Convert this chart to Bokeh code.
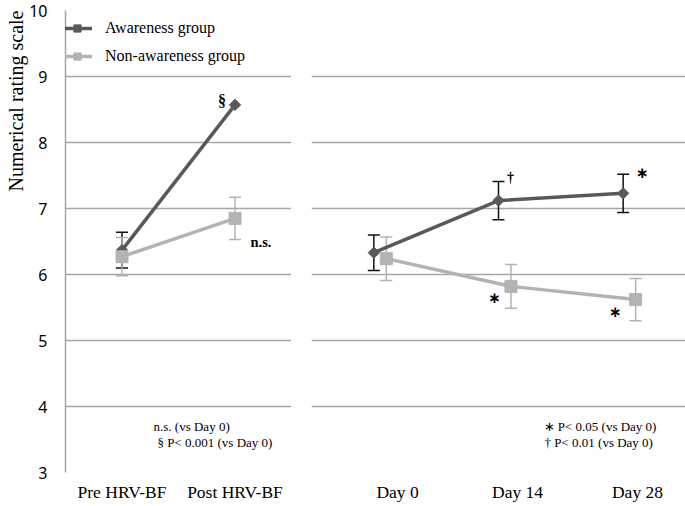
import numpy as np
from bokeh.plotting import figure
from bokeh.models import (ColumnDataSource, FactorRange, Range1d, Whisker, TeeHead,
                          Legend, LegendItem, Label, FixedTicker, Grid, Title, LinearAxis)
from bokeh.layouts import row
from bokeh.transform import dodge
from bokeh.core.properties import value
from bokeh.embed import file_html
from bokeh.resources import INLINE

# ---------------- data ----------------
left_cats = ["Pre HRV-BF", "Post HRV-BF"]
right_cats = ["Day 0", "Day 14", "Day 28"]

aw_left = [6.37, 8.57]
aw_left_err = [0.27, 0.0]
non_left = [6.27, 6.85]
non_left_err = [0.29, 0.32]

aw_right = [6.33, 7.12, 7.23]
aw_right_err = [0.27, 0.29, 0.29]
non_right = [6.24, 5.82, 5.62]
non_right_err = [0.33, 0.33, 0.32]

sig_left_aw = ["", "§"]
sig_left_non = ["", "n.s."]
sig_right_aw = ["", "†", "∗"]
sig_right_non = ["", "∗", "∗"]

note_left = ["n.s. (vs Day 0)", "§  P< 0.001 (vs Day 0)"]
note_right = ["∗ P< 0.05 (vs Day 0)", "† P< 0.01 (vs Day 0)"]

y_ticks = [3, 4, 5, 6, 7, 8, 9, 10]
y_title = "Numerical rating scale"
legend_labels = ["Awareness group", "Non-awareness group"]

# ---------------- style ----------------
DARK = "#595959"
LIGHT = "#b3b3b3"
GRID = "#a6a6a6"
SERIF = "Liberation Serif"
SANS = "Noto Sans"
H = 504
TOP = 10
BOTTOM = 30
FRAME_H = H - TOP - BOTTOM
NON_DODGE = 0.1

yr = Range1d(3, 10)

pl = figure(x_range=FactorRange(*left_cats), y_range=yr, width=291, height=H,
            output_backend="svg", toolbar_location=None,
            min_border_left=65, min_border_right=0, min_border_top=TOP, min_border_bottom=BOTTOM)
# right panel: category slots 0..3 (one unit per day), labels on a second axis
n_r = len(right_cats)
pr = figure(x_range=Range1d(0, n_r), y_range=yr, width=394, height=H,
            output_backend="svg", toolbar_location=None,
            y_axis_location=None, x_axis_location=None,
            min_border_left=20, min_border_right=0, min_border_top=TOP, min_border_bottom=BOTTOM)

# hide default grids before adding our own
for p in (pl, pr):
    p.xgrid.visible = False
    p.ygrid.visible = False
    p.outline_line_color = None
    p.add_layout(Grid(dimension=1, ticker=FixedTicker(ticks=y_ticks),
                      grid_line_color=GRID, grid_line_width=1.5))
pl.x_range.range_padding = 0

pr.extra_x_ranges = {"lab": Range1d(0.283, 3.4)}
lab_axis = LinearAxis(x_range_name="lab", ticker=FixedTicker(ticks=list(range(1, n_r + 1))),
                      major_label_overrides={i + 1: c for i, c in enumerate(right_cats)})
pr.add_layout(lab_axis, "below")

def style_xaxis(ax):
    ax.axis_line_color = None
    ax.major_tick_line_color = None
    ax.minor_tick_line_color = None
    ax.major_tick_out = 0
    ax.major_tick_in = 0
    ax.minor_tick_out = 0
    ax.major_label_text_font = SERIF
    ax.major_label_text_font_size = "17.5px"
    ax.major_label_text_color = "black"
    ax.major_label_standoff = 9

style_xaxis(pl.xaxis[0])
style_xaxis(lab_axis)

pl.yaxis.ticker = FixedTicker(ticks=y_ticks)
pl.yaxis.axis_line_color = GRID
pl.yaxis.axis_line_width = 1.5
pl.yaxis.major_tick_line_color = None
pl.yaxis.minor_tick_line_color = None
pl.yaxis.major_tick_out = 0
pl.yaxis.major_tick_in = 0
pl.yaxis.major_label_standoff = 18
pl.yaxis.major_label_text_font = SANS
pl.yaxis.major_label_text_font_size = "16px"
pl.yaxis.major_label_text_color = "black"

pl.add_layout(Title(text=y_title, align="right", standoff=0, offset=0,
                    text_font=SERIF, text_font_size="20px", text_font_style="normal",
                    text_color="black"), "left")

def errs(v, e):
    lo = [a - b for a, b in zip(v, e)]
    hi = [a + b for a, b in zip(v, e)]
    return lo, hi

def whisk(p, source, base, lo, hi, color):
    w = Whisker(base=base, lower=lo, upper=hi, source=source,
                line_color=color, line_width=1.5,
                upper_head=TeeHead(size=12, line_color=color, line_width=1.5),
                lower_head=TeeHead(size=12, line_color=color, line_width=1.5))
    p.add_layout(w)

def sig(p, x, y, t, dx, dy, size="15px", font=SERIF):
    p.text(x=[x], y=[y], text=[t], x_offset=dx, y_offset=dy, text_align="center",
           text_baseline="middle", text_font=value(font), text_font_size=size,
           text_font_style="bold", text_color="black")

# ---------------- left panel ----------------
nl_lo, nl_hi = errs(non_left, non_left_err)
al_lo, al_hi = errs(aw_left, aw_left_err)
src_l = ColumnDataSource(dict(x=left_cats, aw=aw_left, non=non_left,
                              non_lo=nl_lo, non_hi=nl_hi))
keep = [i for i, e in enumerate(aw_left_err) if e > 0]
src_l_awerr = ColumnDataSource(dict(x=[left_cats[i] for i in keep],
                                    lo=[al_lo[i] for i in keep],
                                    hi=[al_hi[i] for i in keep]))

whisk(pl, src_l_awerr, "x", "lo", "hi", "#111111")
whisk(pl, src_l, "x", "non_lo", "non_hi", LIGHT)

l_non_line = pl.line("x", "non", source=src_l, line_color=LIGHT, line_width=3.5)
l_aw_line = pl.line("x", "aw", source=src_l, line_color=DARK, line_width=3.5)
l_aw_m = pl.scatter("x", "aw", source=src_l, marker="square", angle=np.pi / 4,
                    size=8, fill_color=DARK, line_color=DARK)
l_non_m = pl.scatter("x", "non", source=src_l, marker="square", size=12,
                     fill_color=LIGHT, line_color=LIGHT)

sig(pl, left_cats[1], aw_left[1], sig_left_aw[1], -13, -4, "16px")
sig(pl, left_cats[1], non_left[1], sig_left_non[1], 26, 24, "14.5px")

pl.add_layout(Label(x=0.779, y=3.69, text=note_left[0], text_baseline="middle",
                    text_font=SERIF, text_font_size="13px", text_color="black"))
pl.add_layout(Label(x=0.814, y=3.45, text=note_left[1], text_baseline="middle",
                    text_font=SERIF, text_font_size="13px", text_color="black"))

LEG_H = 18 + 10 + 18
legend = Legend(items=[LegendItem(label=legend_labels[0], renderers=[l_aw_line, l_aw_m]),
                       LegendItem(label=legend_labels[1], renderers=[l_non_line, l_non_m])],
                location=(-3, FRAME_H - 11 - LEG_H), orientation="vertical",
                glyph_width=30, glyph_height=18, label_height=18, spacing=10,
                label_standoff=13, padding=0, margin=0,
                background_fill_alpha=0, border_line_color=None,
                label_text_font=SERIF, label_text_font_size="16px", label_text_color="black")
pl.add_layout(legend)

# ---------------- right panel ----------------
x_r = [i + 0.5 for i in range(n_r)]          # slot centre of each day
nr_lo, nr_hi = errs(non_right, non_right_err)
ar_lo, ar_hi = errs(aw_right, aw_right_err)
src_r = ColumnDataSource(dict(x=x_r, day=right_cats, aw=aw_right, non=non_right,
                              aw_lo=ar_lo, aw_hi=ar_hi, non_lo=nr_lo, non_hi=nr_hi))
xd = dodge("x", NON_DODGE)

whisk(pr, src_r, "x", "aw_lo", "aw_hi", "#111111")
whisk(pr, src_r, xd, "non_lo", "non_hi", LIGHT)

pr.line(xd, "non", source=src_r, line_color=LIGHT, line_width=3.5)
pr.line("x", "aw", source=src_r, line_color=DARK, line_width=3.5)
pr.scatter("x", "aw", source=src_r, marker="square", angle=np.pi / 4, size=8,
           fill_color=DARK, line_color=DARK)
pr.scatter(xd, "non", source=src_r, marker="square", size=12,
           fill_color=LIGHT, line_color=LIGHT)

sig(pr, x_r[1], aw_right[1], sig_right_aw[1], 12, -23, "14px")
sig(pr, x_r[2], aw_right[2], sig_right_aw[2], 19, -20, "15px", "DejaVu Sans")
sig(pr, x_r[1], non_right[1], sig_right_non[1], -4, 12, "15px", "DejaVu Sans")
sig(pr, x_r[2], non_right[2], sig_right_non[2], -8, 12, "15px", "DejaVu Sans")

pr.add_layout(Label(x=1.861, y=3.69, text=note_right[0], text_baseline="middle",
                    text_font=SERIF, text_font_size="13px", text_color="black"))
pr.add_layout(Label(x=1.869, y=3.45, text=note_right[1], text_baseline="middle",
                    text_font=SERIF, text_font_size="13px", text_color="black"))

layout = row(pl, pr)
open("out.html", "w").write(file_html(layout, INLINE))
